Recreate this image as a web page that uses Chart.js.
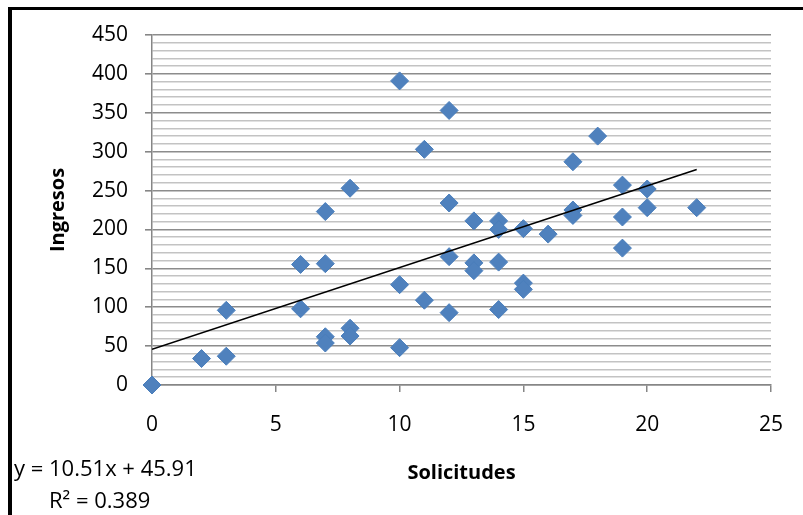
<!DOCTYPE html>
<html>
<head>
<meta charset="utf-8">
<script src="https://cdn.jsdelivr.net/npm/chart.js@4.4.1/dist/chart.umd.min.js"></script>
<style>
    body { margin: 0; background: #fff; }
    #wrap { position: relative; width: 803px; height: 515px; overflow: hidden; }
    #frame {
        position: absolute; left: 8px; top: 7px; width: 820px; height: 530px;
        border-left: 4px solid #000; border-top: 3px solid #000; pointer-events: none;
    }
</style>
</head>
<body>
<div id="wrap">
    <canvas id="my-chart" width="803" height="515"></canvas>
    <div id="frame"></div>
</div>
<script>
// * Scatter of Ingresos vs Solicitudes with linear trend line

const solicitudes = [0, 2, 3, 3, 6, 6, 7, 7, 7, 7, 8, 8, 8, 10, 10, 10, 11, 11, 12, 12, 12, 12,
    13, 13, 13, 14, 14, 14, 14, 15, 15, 15, 16, 17, 17, 17, 18, 19, 19, 19, 20, 20, 22]
const ingresos = [0, 34, 37, 96, 155, 98, 223, 156, 62, 54, 253, 73, 63, 391, 129, 48, 303, 109,
    353, 234, 165, 93, 211, 157, 147, 211, 200, 158, 97, 201, 131, 123, 194, 287, 225, 218, 320,
    257, 216, 176, 252, 228, 228]

// trend line ends
const trendX = [0, 22]
const trendY = [45.9, 277.1]

const xTicks = [0, 5, 10, 15, 20, 25]
const yTicks = [0, 50, 100, 150, 200, 250, 300, 350, 400, 450]

const xTitle = 'Solicitudes'
const yTitle = 'Ingresos'
const equationText = 'y = 10.51x + 45.91'
const r2Text = 'R² = 0.389'

const ctx = document.getElementById('my-chart')
const fontFamily = '"Open Sans", "DejaVu Sans", sans-serif'
const axisGray = '#868686'

// equation label sits outside the plot, bottom left
const equationLabel = {
    id: 'equationLabel',
    afterDraw(chart) {
        const c = chart.ctx
        c.save()
        c.font = '22px ' + fontFamily
        c.fillStyle = '#000'
        c.textAlign = 'left'
        c.textBaseline = 'middle'
        c.fillText(equationText, 14, 470)
        c.fillText(r2Text, 49, 502)
        c.restore()
    }
}

new Chart(ctx, {
    type: 'scatter',
    data: {
        datasets: [
            {
                label: 'Lineal',
                data: trendX.map((x, i) => ({ x: x, y: trendY[i] })),
                showLine: true,
                borderColor: '#000',
                borderWidth: 1.6,
                pointRadius: 0,
                order: 0
            },
            {
                label: 'Ingresos',
                data: solicitudes.map((x, i) => ({ x: x, y: ingresos[i] })),
                pointStyle: 'rectRot',
                pointRadius: 9,
                backgroundColor: '#4f81bd',
                borderColor: '#4a7ebb',
                borderWidth: 1,
                clip: false,
                order: 1
            }
        ]
    },
    options: {
        responsive: false,
        animation: false,
        layout: {
            padding: { top: 35, right: 31, left: 0, bottom: 0 }
        },
        plugins: {
            legend: { display: false },
            tooltip: { enabled: false }
        },
        scales: {
            x: {
                type: 'linear',
                min: 0,
                max: 25,
                afterBuildTicks: (scale) => {
                    scale.ticks = xTicks.map((v) => ({ value: v }))
                },
                afterFit: (scale) => {
                    scale.height = 130
                },
                ticks: {
                    color: '#000',
                    padding: 20,
                    font: { family: fontFamily, size: 21 }
                },
                grid: {
                    drawOnChartArea: false,
                    drawTicks: true,
                    tickLength: 7,
                    color: axisGray,
                    lineWidth: 1.5
                },
                border: { display: true, color: axisGray, width: 1.5 },
                title: {
                    display: true,
                    text: xTitle,
                    color: '#000',
                    padding: { top: 0, bottom: 30 },
                    font: { family: fontFamily, size: 20, weight: 'bold' }
                }
            },
            y: {
                type: 'linear',
                min: 0,
                max: 450,
                ticks: {
                    stepSize: 10,
                    color: '#000',
                    padding: 17,
                    autoSkip: false,
                    font: { family: fontFamily, size: 21 },
                    callback: (v) => (yTicks.includes(v) ? v : '')
                },
                afterFit: (scale) => {
                    scale.width = 152
                },
                grid: {
                    drawTicks: true,
                    tickLength: 7,
                    lineWidth: 1.6,
                    color: (c) => (yTicks.includes(c.tick.value) ? '#8c8c8c' : '#c3c3c3'),
                    tickColor: (c) => (yTicks.includes(c.tick.value) ? axisGray : 'rgba(0,0,0,0)')
                },
                border: { display: true, color: axisGray, width: 1.5 },
                title: {
                    display: true,
                    text: yTitle,
                    color: '#000',
                    padding: { top: 46, bottom: 0 },
                    font: { family: fontFamily, size: 20, weight: 'bold' }
                }
            }
        }
    },
    plugins: [equationLabel]
})
</script>
</body>
</html>
